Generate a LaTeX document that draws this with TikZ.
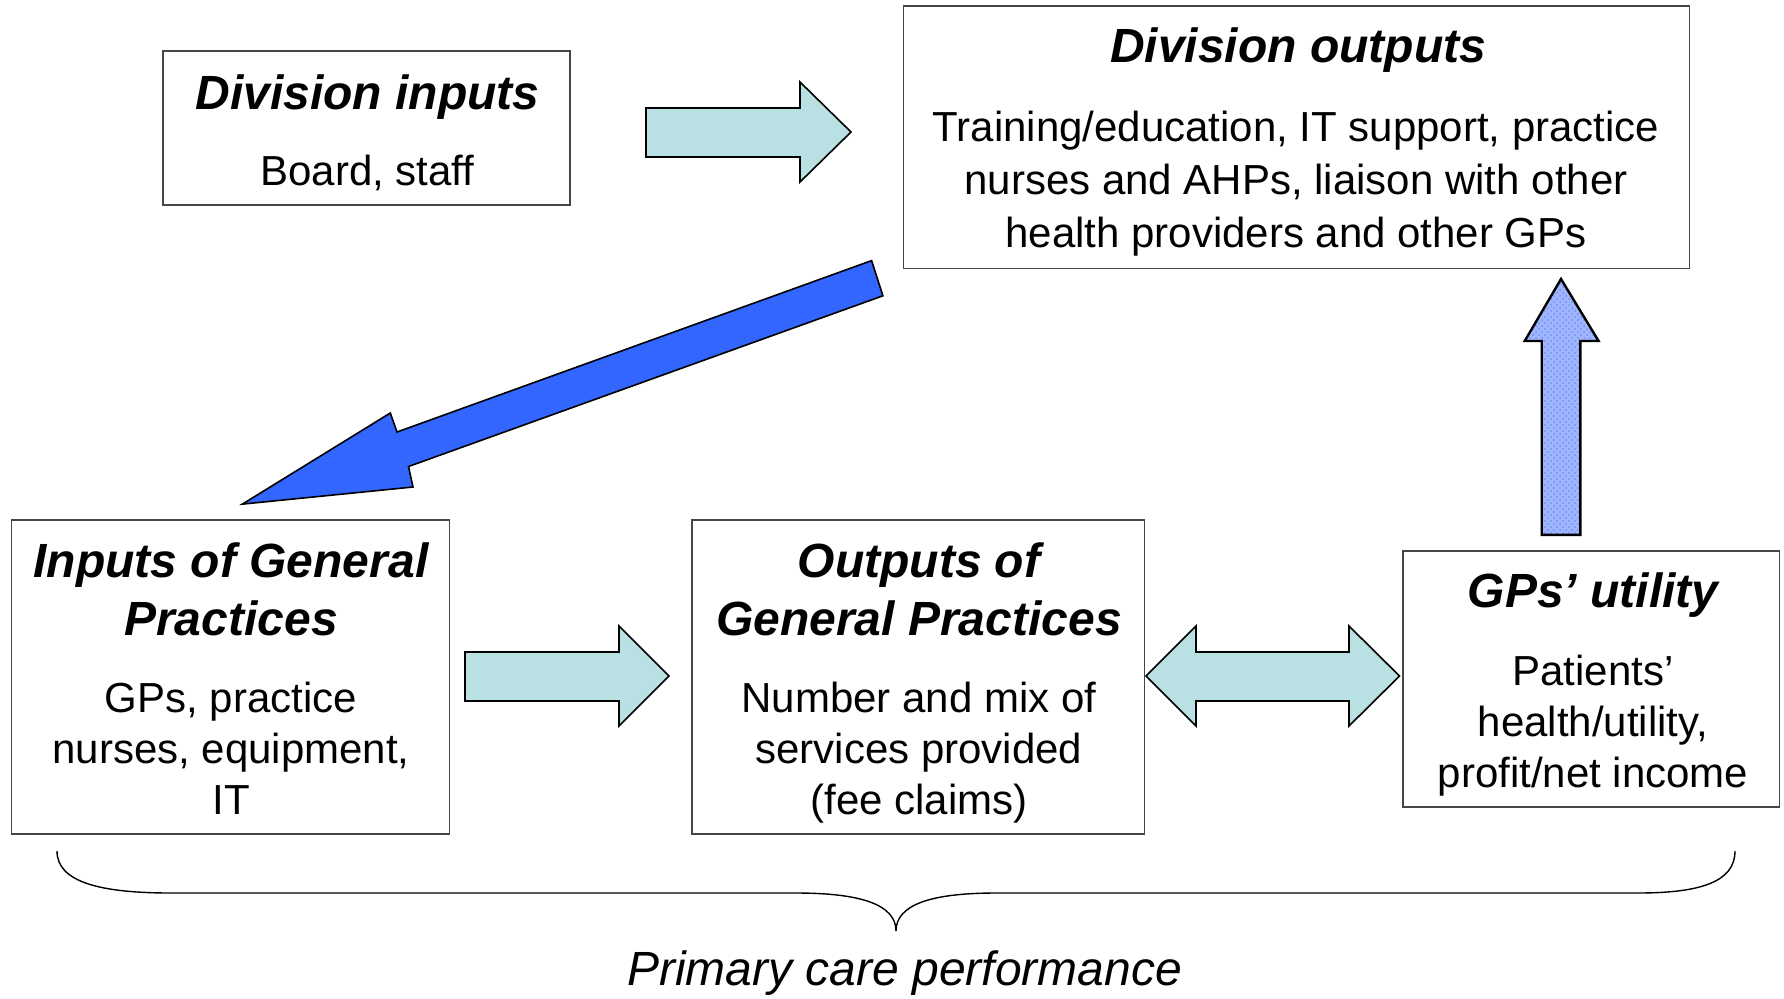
\documentclass[tikz,border=0pt]{standalone}
\usepackage{fontspec}
\setmainfont{Liberation Sans}
\usetikzlibrary{patterns}
\definecolor{boxline}{RGB}{70,70,70}
\definecolor{cyanfill}{RGB}{185,224,226}
\definecolor{bluefill}{RGB}{51,102,255}
\definecolor{dotfill}{RGB}{160,182,252}
\definecolor{dotcol}{RGB}{110,140,250}
\begin{document}
\begin{tikzpicture}[x=0.5pt,y=-0.5pt,
  box/.style={draw=boxline,line width=0.8pt,fill=white},
  ttl/.style={anchor=base,align=center,font=\fontsize{24}{29}\selectfont\bfseries\itshape},
  bdy/.style={anchor=base,align=center,font=\fontsize{21}{25.5}\selectfont},
  blockarrow/.style={draw=black,line width=0.8pt,line join=miter,fill=cyanfill}]
\useasboundingbox (0,0) rectangle (1784,998);
% boxes
\draw[box] (162.7,51.2) rectangle (570,204.8) node[midway,inner sep=0] (di) {};
\draw[box] (903.4,5.7) rectangle (1689.6,268.5) node[midway,inner sep=0] (do) {};
\draw[box] (11.4,520) rectangle (449.4,834) node[midway,inner sep=0] (igp) {};
\draw[box] (691.8,520) rectangle (1144.6,834) node[midway,inner sep=0] (ogp) {};
\draw[box] (1403,550.7) rectangle (1779.5,806.7) node[midway,inner sep=0] (gpu) {};
% texts (multi-line nodes: base = baseline of last line)
\node[ttl] (dit) at (367.5,109) {Division inputs};
\node[bdy] (dib) at (367.5,185) {Board, staff};
\node[ttl] (dot) at (1298,62.5) {Division outputs};
\node[bdy,font=\fontsize{21}{26.5}\selectfont] (dob) at (1296,247) {Training/education, IT support, practice\\nurses and AHPs, liaison with other\\health providers and other GPs};
\node[ttl] (igpt) at (231,635) {Inputs of General\\Practices};
\node[bdy] (igpb) at (231,814) {GPs, practice\\nurses, equipment,\\IT};
\node[ttl] (ogpt) at (919,635) {Outputs of\\General Practices};
\node[bdy] (ogpb) at (919,814) {Number and mix of\\services provided\\(fee claims)};
\node[ttl] (gput) at (1593,607.5) {GPs’ utility};
\node[bdy] (gpub) at (1593,787.7) {Patients’\\health/utility,\\profit/net income};
% block arrows
\draw[blockarrow] (646,108) -- (800,108) -- (800,82) -- (851,132) -- (800,182) -- (800,157) -- (646,157) -- cycle;
\draw[blockarrow] (465,652) -- (619,652) -- (619,626) -- (669,676) -- (619,726) -- (619,701) -- (465,701) -- cycle;
\draw[blockarrow] (1146,676) -- (1196,626) -- (1196,652) -- (1349,652) -- (1349,626) -- (1399.5,676) -- (1349,726) -- (1349,701) -- (1196,701) -- (1196,726) -- cycle;
\fill[dotfill] (1541.7,534.8) -- (1541.7,341) -- (1524.7,341) -- (1561,279) -- (1598.6,341) -- (1580.4,341) -- (1580.4,534.8) -- cycle;
\fill[pattern=crosshatch dots,pattern color=dotcol] (1541.7,534.8) -- (1541.7,341) -- (1524.7,341) -- (1561,279) -- (1598.6,341) -- (1580.4,341) -- (1580.4,534.8) -- cycle;
\draw[line width=1.2pt,line join=miter] (1541.7,534.8) -- (1541.7,341) -- (1524.7,341) -- (1561,279) -- (1598.6,341) -- (1580.4,341) -- (1580.4,534.8) -- cycle;
\draw[line width=0.8pt,line join=miter,fill=bluefill] (871.6,260.6) -- (882.9,295.8) -- (408.5,466.5) -- (413,487) -- (242.4,504.1) -- (390.3,413) -- (397,432) -- cycle;
% brace
\coordinate (bl) at (57,851);
\coordinate (br) at (1735,851);
\coordinate (bt) at (896,931);
\draw[line width=0.7pt] (bl) .. controls (57,882) and (100,893) .. (171,893) -- (796,893) .. controls (862,893) and (896,905) .. (bt) .. controls (896,905) and (930,893) .. (996,893) -- (1638,893) .. controls (1700,893) and (1735,882) .. (br);
\node[anchor=base,font=\fontsize{24}{29}\selectfont\itshape] (pcp) at (904.6,985) {Primary care performance};
\end{tikzpicture}
\end{document}
